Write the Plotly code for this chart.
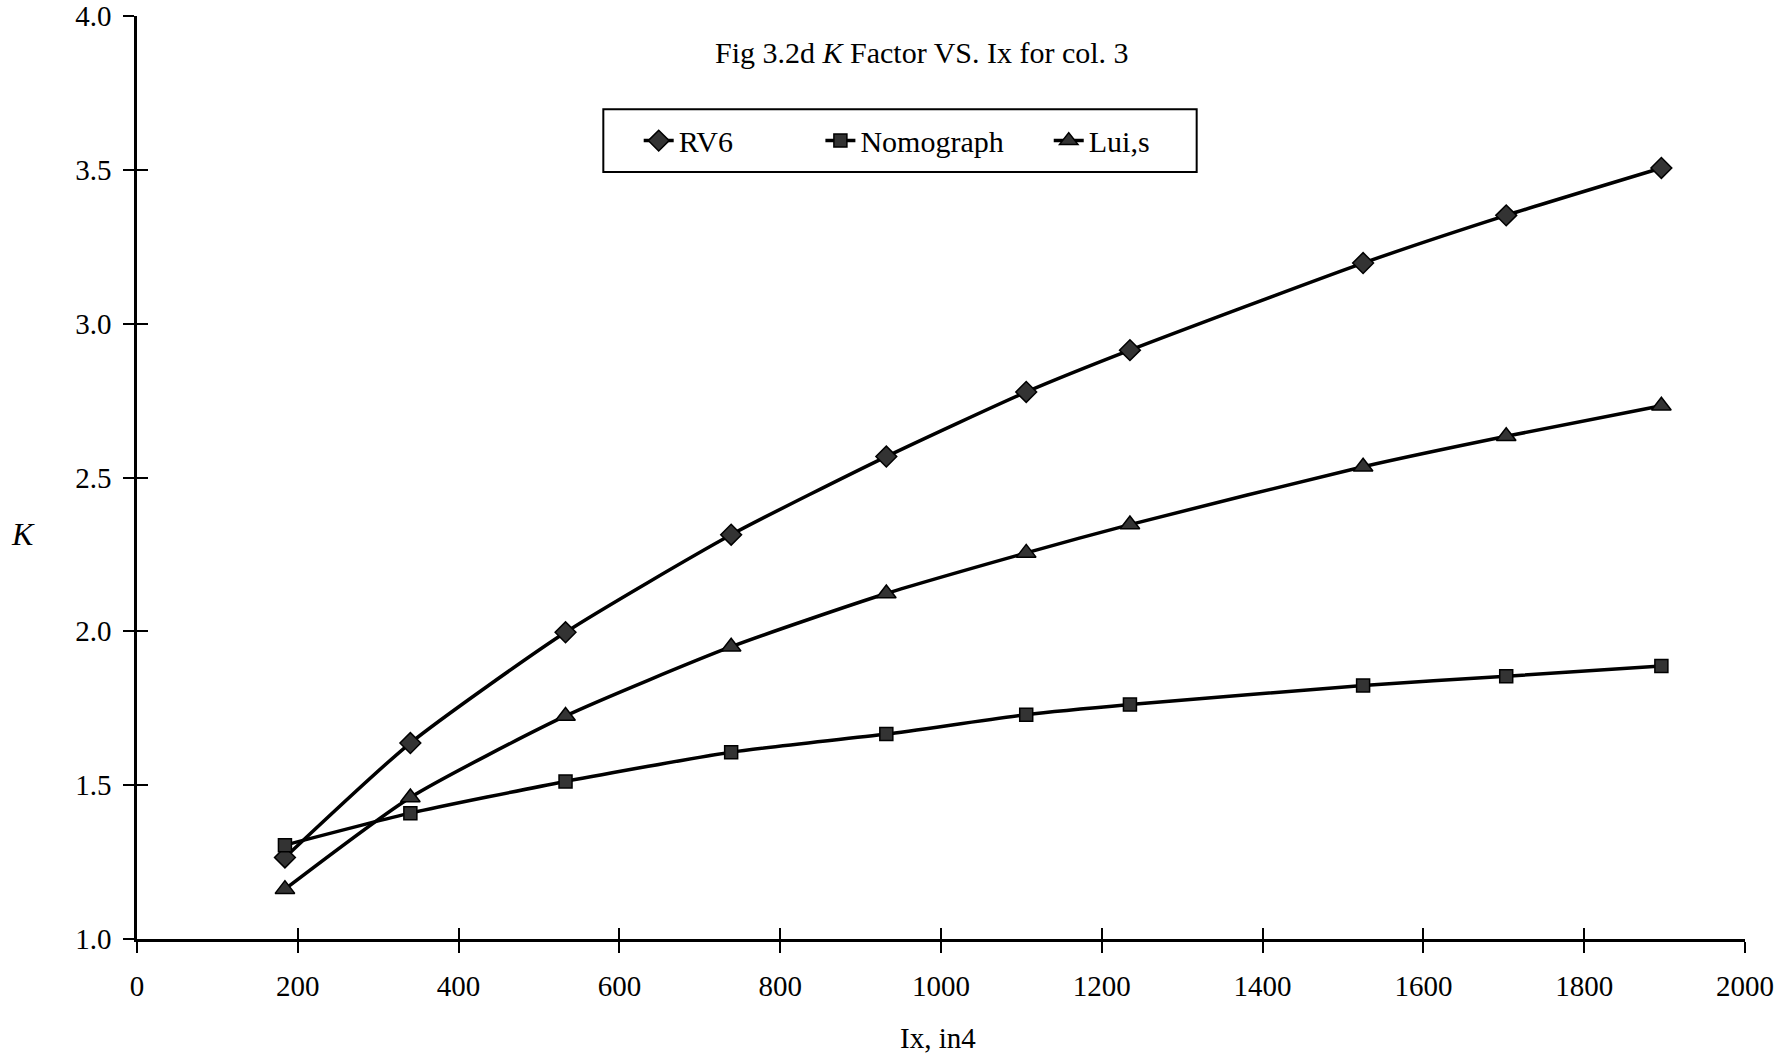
import plotly.graph_objects as go

# Moment of inertia of the column section, in^4
ix = [184, 340, 533, 739, 932, 1106, 1235, 1525, 1703, 1896]

# Effective length factor K from each method
k_rv6 = [1.265, 1.637, 1.997, 2.314, 2.568, 2.778, 2.914, 3.197, 3.352, 3.506]
k_nomograph = [1.305, 1.409, 1.512, 1.607, 1.666, 1.729, 1.762, 1.824, 1.854, 1.887]
k_luis = [1.162, 1.460, 1.725, 1.950, 2.123, 2.255, 2.347, 2.535, 2.634, 2.733]

x_ticks = [0, 200, 400, 600, 800, 1000, 1200, 1400, 1600, 1800, 2000]
y_ticks = [1.0, 1.5, 2.0, 2.5, 3.0, 3.5, 4.0]

FONT = "Liberation Serif, Times New Roman, serif"

# name, values, marker symbol, marker size, legend id, legend x (paper)
series = [
    ("RV6", k_rv6, "diamond", 16, "legend", 0.312),
    ("Nomograph", k_nomograph, "square", 13, "legend2", 0.425),
    ("Lui,s", k_luis, "triangle-up", 17, "legend3", 0.567),
]

fig = go.Figure()
for name, vals, sym, size, leg, _ in series:
    fig.add_trace(go.Scatter(
        x=ix, y=vals, name=name, mode="lines+markers", legend=leg,
        line=dict(color="black", width=3.5, shape="spline", smoothing=0.6),
        marker=dict(symbol=sym, size=size, color="#333333",
                    line=dict(color="black", width=1.5)),
    ))

axis_common = dict(
    automargin=False,
    showgrid=False, zeroline=False, showline=True, linecolor="black",
    linewidth=2.5, ticks="outside", ticklen=11, tickwidth=2, tickcolor="black",
    tickfont=dict(family=FONT, size=29, color="black"),
)

legend_common = dict(
    orientation="h", xanchor="left", y=0.865, yanchor="middle",
    bgcolor="rgba(0,0,0,0)", borderwidth=0,
    font=dict(family=FONT, size=30, color="black"), itemwidth=30,
)

layout_legends = {}
for name, _, _, _, leg, lx in series:
    layout_legends[leg] = dict(x=lx, **legend_common)

fig.update_layout(
    width=1775, height=1056,
    margin=dict(l=137, r=30, t=16, b=117, autoexpand=False),
    paper_bgcolor="white", plot_bgcolor="white",
    font=dict(family=FONT, color="black"),
    showlegend=True,
    **layout_legends,
    xaxis=dict(
        range=[0, 2000], tickvals=x_ticks, ticktext=[str(v) for v in x_ticks],
        ticklabelstandoff=8,
        **axis_common,
    ),
    yaxis=dict(
        range=[1.0, 4.0], tickvals=y_ticks,
        ticktext=[f"{v:.1f}" for v in y_ticks],
        ticklabelstandoff=6,
        **axis_common,
    ),
    # Mirror axes carrying the inner half of each cross tick
    xaxis2=dict(
        overlaying="x", range=[0, 2000], tickvals=x_ticks, showticklabels=False,
        showgrid=False, zeroline=False, showline=False, side="bottom",
        automargin=False,
        ticks="inside", ticklen=11, tickwidth=2, tickcolor="black",
    ),
    yaxis2=dict(
        overlaying="y", range=[1.0, 4.0], tickvals=y_ticks, showticklabels=False,
        showgrid=False, zeroline=False, showline=False, side="left",
        automargin=False,
        ticks="inside", ticklen=11, tickwidth=2, tickcolor="black",
    ),
)

# Invisible trace so the mirror axes are drawn
fig.add_trace(go.Scatter(x=[None], y=[None], xaxis="x2", yaxis="y2",
                         showlegend=False, hoverinfo="skip"))

# Frame around the legend entries
fig.add_shape(
    type="rect", xref="paper", yref="paper",
    x0=0.290, x1=0.659, y0=0.831, y1=0.899,
    line=dict(color="black", width=2), fillcolor="white", layer="below",
)

fig.add_annotation(
    text="Fig 3.2d <i>K</i> Factor VS. Ix for col. 3",
    xref="paper", yref="paper", x=0.488, y=0.96, xanchor="center", yanchor="middle",
    showarrow=False, font=dict(family=FONT, size=30, color="black"),
)
fig.add_annotation(
    text="<i>K</i>", xref="paper", yref="paper", x=-0.071, y=0.439,
    xanchor="center", yanchor="middle", showarrow=False,
    font=dict(family=FONT, size=32, color="black"),
)
fig.add_annotation(
    text="Ix, in4", xref="paper", yref="paper", x=0.498, y=-0.107,
    xanchor="center", yanchor="middle", showarrow=False,
    font=dict(family=FONT, size=29, color="black"),
)

fig.write_html("out.html")
